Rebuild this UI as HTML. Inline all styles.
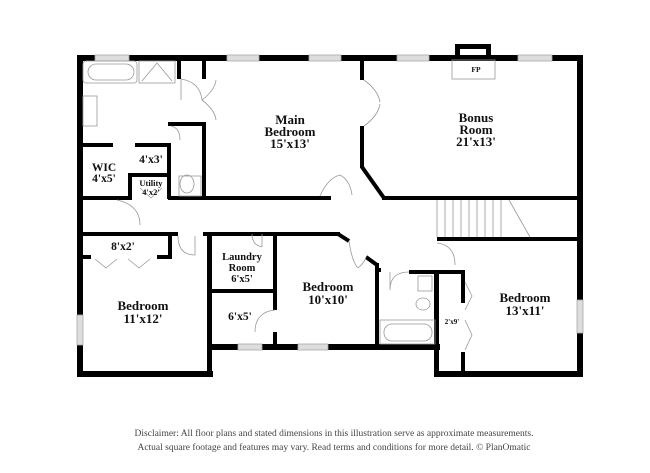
<!DOCTYPE html>
<html><head><style>
html,body{margin:0;padding:0;background:#fff;}
svg{display:block;}
text{font-family:"Liberation Serif",serif;font-weight:bold;fill:#111;text-anchor:middle;}
.f{font-weight:normal;fill:#444;font-size:9.5px;}
</style></head><body>
<svg width="650" height="473" viewBox="0 0 650 473">
<g fill="#000">
<rect x="77" y="55" width="505" height="6"/>
<rect x="77" y="55" width="6" height="322"/>
<rect x="77" y="371" width="136" height="6"/>
<rect x="577" y="55" width="6" height="322"/>
<rect x="434" y="371" width="149" height="6"/>
<rect x="207" y="344" width="233" height="6"/>
<rect x="207" y="234" width="5" height="143"/>
<rect x="434" y="270" width="5" height="107"/>
<rect x="455" y="44" width="36" height="5"/>
<rect x="455" y="44" width="5" height="15"/>
<rect x="486" y="44" width="5" height="15"/>
<rect x="177" y="60" width="4" height="19"/>
<rect x="202" y="60" width="4" height="19"/>
<rect x="202" y="122" width="4" height="77"/>
<rect x="168" y="196" width="163" height="4"/>
<rect x="168" y="122" width="36" height="4"/>
<rect x="167" y="145" width="4" height="54"/>
<rect x="77" y="143" width="36" height="4"/>
<rect x="135" y="143" width="36" height="4"/>
<rect x="128" y="173" width="41" height="4"/>
<rect x="128" y="173" width="4" height="26"/>
<rect x="77" y="196" width="55" height="4"/>
<rect x="360" y="60" width="4" height="20"/>
<rect x="360" y="126" width="4" height="42"/>
<line x1="362" y1="167" x2="384" y2="198" stroke="#000" stroke-width="4"/>
<rect x="382" y="196" width="200" height="4"/>
<rect x="437" y="237" width="145" height="4"/>
<rect x="77" y="232" width="101" height="4"/>
<rect x="203" y="232" width="137" height="4"/>
<line x1="338" y1="234" x2="349" y2="241" stroke="#000" stroke-width="4"/>
<line x1="366" y1="257" x2="377" y2="265" stroke="#000" stroke-width="4"/>
<rect x="375" y="263" width="4" height="85"/>
<rect x="77" y="255" width="14" height="4"/>
<rect x="157" y="255" width="15" height="4"/>
<rect x="168" y="232" width="4" height="27"/>
<rect x="207" y="289" width="70" height="4"/>
<rect x="273" y="232" width="4" height="78"/>
<rect x="273" y="332" width="4" height="15"/>
<rect x="375" y="268" width="6" height="4"/>
<rect x="409" y="270" width="56" height="4"/>
<rect x="461" y="270" width="4" height="33"/>
<rect x="461" y="352" width="4" height="22"/>
</g>
<g fill="#ddd" stroke="#aaa" stroke-width="0.8">
<rect x="95" y="55" width="34" height="6"/><rect x="227" y="55" width="32" height="6"/><rect x="309" y="55" width="32" height="6"/>
<rect x="397" y="55" width="32" height="6"/><rect x="518" y="55" width="34" height="6"/>
<rect x="238" y="344" width="24" height="6"/><rect x="298" y="344" width="30" height="6"/>
<rect x="77" y="315" width="6" height="30"/><rect x="577" y="300" width="6" height="33"/>
</g>
<g fill="none" stroke="#999" stroke-width="0.8">
<rect x="452" y="60" width="43" height="19"/>
<rect x="83" y="61" width="54" height="22" rx="3"/><rect x="88" y="64" width="46" height="16" rx="8"/>
<rect x="139" y="61" width="36" height="22"/><path d="M142 81 L157 63 L172 81"/>
<rect x="83" y="96" width="14" height="30"/>
<rect x="179" y="176" width="22" height="20"/><ellipse cx="187" cy="184" rx="7" ry="9"/>
<rect x="380" y="320" width="55" height="24"/><rect x="384" y="324" width="48" height="17" rx="8"/>
<rect x="418" y="276" width="14" height="15"/><ellipse cx="423" cy="304" rx="7" ry="6"/>
<path d="M437 200 V237 M445 200 V237 M453 200 V237 M461 200 V237 M469 200 V237 M477 200 V237 M485 200 V237 M493 200 V237 M501 200 V237 M509 200 L530 237"/>
<path d="M181 79 Q200 82 202 100 M202 100 Q215 90 216 80 M202 100 Q215 110 216 120 M181 79 V100"/>
<path d="M364 80 Q378 90 380 102 M364 126 Q378 116 380 104"/>
<path d="M178 236 Q178 255 195 255 V236 M117 200 Q140 205 140 225 M275 310 Q255 312 255 332 M409 272 Q390 272 390 290 V272 M437 243 Q455 245 455 265 M171 126 Q180 128 180 140"/>
<path d="M320 196 Q328 178 340 175 M340 175 Q350 180 352 195 M349 241 Q352 262 358 268 Q365 262 366 257"/>
<path d="M95 259 L106 268 L117 259 M128 259 L139 268 L150 259 M140 188 L151 198 L162 188"/>
<path d="M465 282 L472 296 L465 310 M465 320 L472 335 L465 350"/>
<path d="M252 234 Q252 245 262 247 M262 234 V247"/>
</g>
<text x="290" y="124" font-size="13">Main</text>
<text x="290" y="136" font-size="13">Bedroom</text>
<text x="290" y="148" font-size="13">15'x13'</text>
<text x="476" y="122" font-size="13">Bonus</text>
<text x="476" y="134" font-size="13">Room</text>
<text x="476" y="146" font-size="13">21'x13'</text>
<text x="476" y="72" font-size="7.5">FP</text>
<text x="104" y="171" font-size="11.5">WIC</text>
<text x="104" y="182" font-size="11.5">4'x5'</text>
<text x="151" y="163" font-size="11.5">4'x3'</text>
<text x="151" y="186" font-size="8.5">Utility</text>
<text x="151" y="195" font-size="8.5">4'x2'</text>
<text x="123" y="250" font-size="11.5">8'x2'</text>
<text x="143" y="310" font-size="13">Bedroom</text>
<text x="143" y="323" font-size="13">11'x12'</text>
<text x="242" y="260" font-size="10.5">Laundry</text>
<text x="242" y="271" font-size="10.5">Room</text>
<text x="242" y="282" font-size="10.5">6'x5'</text>
<text x="240" y="320" font-size="11.5">6'x5'</text>
<text x="328" y="291" font-size="13">Bedroom</text>
<text x="328" y="304" font-size="13">10'x10'</text>
<text x="525" y="302" font-size="13">Bedroom</text>
<text x="525" y="315" font-size="13">13'x11'</text>
<text x="452" y="324" font-size="7">2'x9'</text>
<text class="f" x="334" y="436">Disclaimer: All floor plans and stated dimensions in this illustration serve as approximate measurements.</text>
<text class="f" x="334" y="450">Actual square footage and features may vary. Read terms and conditions for more detail. © PlanOmatic</text>
</svg>
</body></html>
